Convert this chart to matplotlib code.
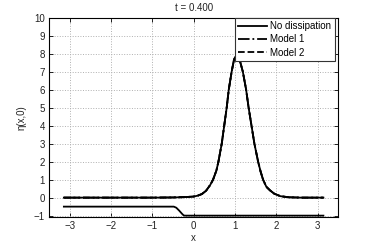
import matplotlib
matplotlib.use("Agg")
import matplotlib.pyplot as plt

plt.rcParams["font.family"] = ["Liberation Sans", "DejaVu Sans"]
plt.rcParams["font.size"] = 7

# free surface
x_surf = [-3.14, -1.0, -0.5, -0.2, 0.0, 0.1, 0.2, 0.3, 0.4, 0.47, 0.55, 0.6,
          0.68, 0.74, 0.8, 0.85, 0.92, 0.98, 1.05, 1.12, 1.19, 1.27, 1.33,
          1.40, 1.47, 1.56, 1.62, 1.68, 1.76, 1.85, 1.95, 2.1, 2.3, 2.6, 3.14]
eta_nodiss = [0, 0, 0.01, 0.03, 0.06, 0.11, 0.2, 0.38, 0.7, 1.0, 1.5, 2.0,
              3.0, 4.0, 5.0, 6.0, 7.0, 7.7, 7.95, 7.6, 7.0, 6.0, 5.0,
              4.0, 3.0, 2.0, 1.45, 1.0, 0.6, 0.4, 0.22, 0.08, 0.02, 0.0, 0.0]
eta_model1 = list(eta_nodiss)
eta_model2 = list(eta_nodiss)

# bottom
x_bed = [-3.14, -0.48, -0.42, -0.35, -0.28, -0.24, -0.2, 3.14]
z_bed = [-0.5, -0.5, -0.56, -0.72, -0.9, -0.99, -1.0, -1.0]

fig = plt.figure(figsize=(3.74, 2.45), dpi=100)
ax = fig.add_axes([0.131, 0.114, 0.7735, 0.814])

lw = 1.3
ax.plot(x_surf, eta_nodiss, "k-", lw=lw, label="No dissipation")
ax.plot(x_surf, eta_model1, "k-.", lw=lw, label="Model 1")
ax.plot(x_surf, eta_model2, "k--", lw=lw, label="Model 2")
ax.plot(x_bed, z_bed, "k-", lw=lw)

ax.set_xlim(-3.5, 3.5)
ax.set_ylim(-1.08, 10)
ax.set_xticks(range(-3, 4))
ax.set_yticks(range(-1, 11))
ax.tick_params(direction="in", top=True, right=True, length=3, width=0.6,
               labelsize=7, pad=3, labelcolor="#222222")
ax.grid(True, ls=":", color="#b0b0b0", lw=0.7)
for s in ax.spines.values():
    s.set_linewidth(0.8)

ax.set_title("t = 0.400", fontsize=7, pad=5, color="#222222")
ax.set_xlabel("x", fontsize=7, labelpad=1, color="#222222")
ax.set_ylabel("η(x,0)", fontsize=7, labelpad=5, color="#222222")

leg = ax.legend(loc="upper right", bbox_to_anchor=(0.988, 1.0), fontsize=7,
                fancybox=False, framealpha=1, edgecolor="#333333",
                borderaxespad=0, handlelength=3.0, handletextpad=0.3,
                labelspacing=0.35, borderpad=0.35)
leg.get_frame().set_linewidth(0.8)

fig.savefig("out.png", dpi=100)
